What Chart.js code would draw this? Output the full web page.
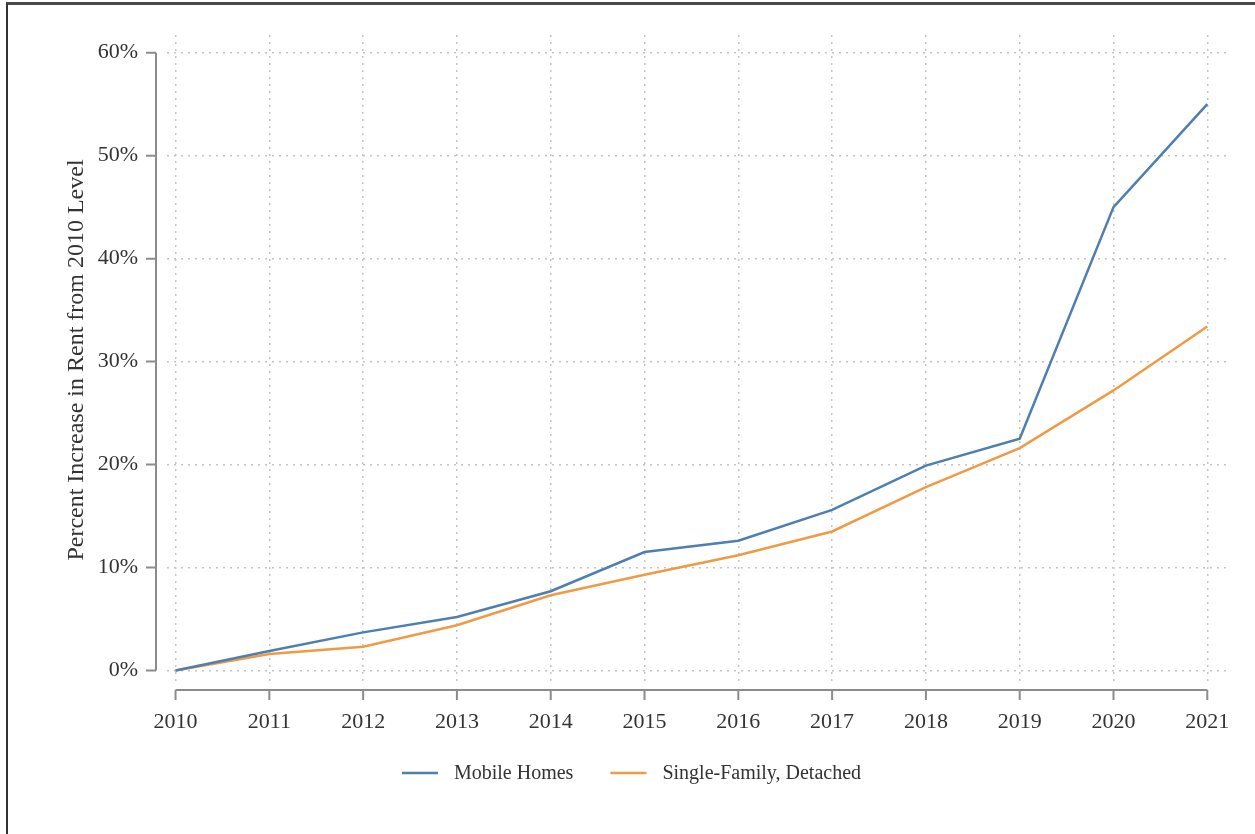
<!DOCTYPE html>
<html>
<head>
<meta charset="utf-8">
<title>Percent Increase in Rent from 2010 Level</title>
<script src="https://cdn.jsdelivr.net/npm/chart.js@4.4.1/dist/chart.umd.min.js"></script>
<style>
    html, body { margin: 0; padding: 0; background: #fff; }
    #wrap { position: relative; width: 1255px; height: 834px; overflow: hidden; }
    #frame {
        position: absolute; left: 6px; top: 2px; right: -10px; bottom: -10px;
        border-top: 3px solid #4a4a4a; border-left: 2px solid #333;
    }
    #chart { position: absolute; left: 0; top: 0; }
</style>
</head>
<body>
<div id="wrap">
    <div id="frame"></div>
    <canvas id="chart" width="1255" height="834"></canvas>
</div>
<script>
// Data (percent increase vs 2010)
const years = [2010, 2011, 2012, 2013, 2014, 2015, 2016, 2017, 2018, 2019, 2020, 2021];
const mobileHomes = [0, 1.9, 3.7, 5.2, 7.7, 11.5, 12.6, 15.6, 19.9, 22.5, 45.0, 55.0];
const singleFamily = [0, 1.6, 2.3, 4.4, 7.3, 9.3, 11.2, 13.5, 17.8, 21.6, 27.2, 33.4];
const yTicks = [0, 10, 20, 30, 40, 50, 60];

const serif = '"Liberation Serif", "Times New Roman", serif';
const textColor = '#333';
const gridColor = '#c4c4c4';
const axisColor = '#8c8c8c';

// Stata-style detached axes: lines sit outside the plot region
const axisLines = {
    id: 'axisLines',
    afterDraw(chart) {
        const { ctx, chartArea, scales } = chart;
        const x = scales.x, y = scales.y;
        const ax = chartArea.left - 11;
        const ay = chartArea.bottom + 5;
        ctx.save();
        ctx.strokeStyle = axisColor;
        ctx.lineWidth = 2;
        ctx.beginPath();
        ctx.moveTo(ax, y.getPixelForValue(yTicks[yTicks.length - 1]));
        ctx.lineTo(ax, y.getPixelForValue(yTicks[0]));
        yTicks.forEach(v => {
            const py = y.getPixelForValue(v);
            ctx.moveTo(ax - 10, py);
            ctx.lineTo(ax, py);
        });
        ctx.moveTo(x.getPixelForValue(years[0]), ay);
        ctx.lineTo(x.getPixelForValue(years[years.length - 1]), ay);
        years.forEach(v => {
            const px = x.getPixelForValue(v);
            ctx.moveTo(px, ay);
            ctx.lineTo(px, ay + 10);
        });
        ctx.stroke();
        ctx.restore();
    }
};

// Legend row under the x axis (line sample + label per dataset)
const lineLegend = {
    id: 'lineLegend',
    afterDraw(chart) {
        const { ctx, chartArea } = chart;
        const sets = chart.data.datasets;
        const sample = 36, textGap = 16, itemGap = 37;
        ctx.save();
        ctx.font = '20px ' + serif;
        ctx.textBaseline = 'middle';
        const widths = sets.map(d => sample + textGap + ctx.measureText(d.label).width);
        const total = widths.reduce((a, b) => a + b, 0) + itemGap * (sets.length - 1);
        let x = chart.width / 2 + 4 - total / 2;
        const y = chartArea.bottom + 88;
        sets.forEach((d, i) => {
            ctx.strokeStyle = d.borderColor;
            ctx.lineWidth = d.borderWidth;
            ctx.beginPath();
            ctx.moveTo(x, y);
            ctx.lineTo(x + sample, y);
            ctx.stroke();
            ctx.fillStyle = textColor;
            ctx.fillText(d.label, x + sample + textGap, y + 1);
            x += widths[i] + itemGap;
        });
        ctx.restore();
    }
};

const toPoints = values => values.map((v, i) => ({ x: years[i], y: v }));

new Chart(document.getElementById('chart'), {
    type: 'line',
    data: {
        datasets: [
            {
                label: 'Mobile Homes',
                data: toPoints(mobileHomes),
                borderColor: '#4e7fae',
                backgroundColor: '#4e7fae',
                borderWidth: 2.5
            },
            {
                label: 'Single-Family, Detached',
                data: toPoints(singleFamily),
                borderColor: '#ef9a45',
                backgroundColor: '#ef9a45',
                borderWidth: 2.5
            }
        ]
    },
    options: {
        responsive: false,
        animation: false,
        devicePixelRatio: 1,
        layout: { padding: { top: 35, left: 33, right: 25, bottom: 89 } },
        elements: { point: { radius: 0 }, line: { tension: 0 } },
        plugins: {
            tooltip: { enabled: false },
            legend: { display: false }
        },
        scales: {
            x: {
                type: 'linear',
                min: 2009.909,
                max: 2021.242,
                afterBuildTicks: scale => { scale.ticks = years.map(v => ({ value: v })); },
                afterFit: scale => {
                    scale.height = 60;
                    scale.paddingLeft = 0;
                    scale.paddingRight = 0;
                },
                ticks: {
                    padding: 24,
                    color: textColor,
                    font: { family: serif, size: 22 },
                    callback: v => String(v)
                },
                grid: { color: gridColor, lineWidth: 1.5, drawTicks: false },
                border: { display: false, dash: [2, 5] }
            },
            y: {
                min: -1.41,
                max: 61.72,
                afterBuildTicks: scale => { scale.ticks = yTicks.map(v => ({ value: v })); },
                afterFit: scale => {
                    scale.width = 134;
                    scale.paddingTop = 0;
                    scale.paddingBottom = 0;
                },
                ticks: {
                    padding: 29,
                    color: textColor,
                    font: { family: serif, size: 22 },
                    callback: v => v + '%'
                },
                grid: { color: gridColor, lineWidth: 1.5, drawTicks: false },
                border: { display: false, dash: [2, 5] },
                title: {
                    display: true,
                    text: 'Percent Increase in Rent from 2010 Level',
                    color: textColor,
                    font: { family: serif, size: 24 },
                    padding: { top: 29, bottom: 0 }
                }
            }
        }
    },
    plugins: [axisLines, lineLegend]
});
</script>
</body>
</html>
